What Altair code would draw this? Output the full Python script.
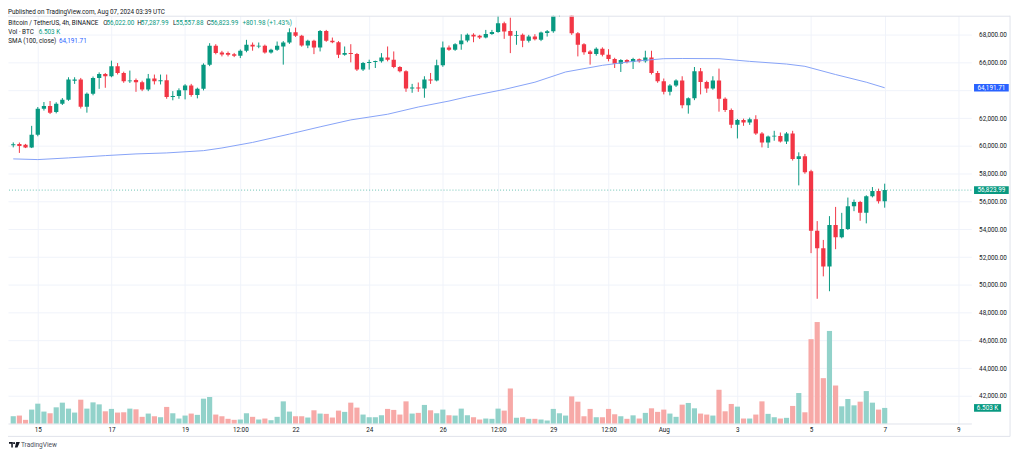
import altair as alt
import pandas as pd

# ---- data (BTC/USDT 4h, candle open times in hours from 2024-07-15 00:00) ----
first_hour = -16
hour_step = 4

opens = [60060, 60143, 60090, 59900, 60807, 62686, 62879, 62450, 63043, 63329,
         64700, 64790, 62829, 63757, 64900, 65186, 65021, 65736, 65257, 64664,
         64757, 64593, 64071, 64857, 64664, 64730, 63521, 63600, 64021, 64357,
         63664, 64114, 65857, 67214, 66736, 66686, 66600, 66500, 66857, 67286,
         67164, 67220, 66736, 66929, 67164, 67450, 68186, 67929, 67236, 67571,
         67093, 68286, 67571, 67471, 66571, 66686, 66614, 65500, 65971, 66050,
         66100, 66379, 66214, 65686, 65379, 64143, 64180, 64143, 64786, 64714,
         65807, 67093, 66929, 67329, 67593, 68000, 67929, 67807, 68071, 68214,
         68829, 68286, 67929, 68000, 67571, 67879, 67643, 68143, 68257, 69380,
         69700, 69900, 68114, 67329, 66807, 66614, 67000, 66571, 66257, 65929,
         66186, 66043, 66236, 66093, 66379, 65257, 64664, 63900, 64357, 64714,
         62929, 63429, 65379, 64614, 64143, 64714, 63400, 62593, 61521, 61879,
         61686, 61929, 60900, 60257, 60686, 60720, 60329, 60900, 59057, 59257,
         58186, 53900, 52643, 51329, 54307, 53429, 54021, 55664, 55971, 55186,
         56379, 56757, 56022]
highs = [60257, 60250, 60150, 61450, 62807, 63164, 63236, 63150, 63450, 64950,
         64950, 64900, 63850, 65000, 65300, 65257, 66143, 65971, 65350, 65430,
         64857, 64700, 65186, 65143, 65143, 65143, 63950, 64150, 64450, 64471,
         64200, 65950, 67400, 67329, 66850, 66800, 66700, 66950, 67643, 67450,
         67450, 67300, 67000, 67521, 67550, 68471, 68521, 68000, 67650, 67650,
         68350, 68357, 67807, 67550, 67164, 67329, 66700, 66050, 66214, 66143,
         66686, 67164, 66807, 65750, 65450, 64471, 64571, 65021, 65257, 66214,
         67521, 67236, 67400, 68043, 68100, 68114, 68000, 68357, 68357, 69379,
         68950, 69236, 68286, 68100, 68000, 68050, 68236, 68350, 69500, 69900,
         70000, 70000, 68200, 67400, 66900, 67100, 67100, 66971, 66350, 66250,
         66250, 66350, 66300, 66857, 66857, 65400, 64857, 64450, 64800, 65021,
         63500, 65686, 65614, 64700, 65021, 65571, 63500, 62700, 61950, 61971,
         62043, 62214, 61000, 60750, 61093, 60971, 61000, 61093, 59543, 59429,
         58286, 54593, 53236, 54950, 55614, 55186, 56286, 56143, 56050, 56450,
         57043, 56929, 57287.99]
lows = [59900, 59500, 59850, 59850, 60700, 62550, 62300, 62350, 62950, 63250,
        64470, 62700, 62400, 63650, 64114, 64190, 64950, 65150, 64550, 64540,
        63900, 63950, 63950, 64430, 64430, 63400, 63290, 63400, 63357, 63550,
        63429, 64000, 65750, 66600, 66450, 66450, 66400, 66329, 66750, 66860,
        67040, 66650, 66650, 66850, 65857, 67350, 67850, 67150, 67043, 66614,
        66807, 67500, 67400, 66329, 66500, 66021, 65400, 65400, 65500, 65614,
        66000, 66093, 65600, 65300, 63900, 63829, 63900, 63471, 64471, 64650,
        65700, 66850, 66850, 66929, 67471, 67471, 67700, 67750, 68000, 68150,
        67714, 66686, 67286, 67114, 67450, 67600, 67550, 67879, 68150, 69300,
        69550, 68000, 66450, 66571, 65857, 66500, 66450, 66093, 65614, 65329,
        65950, 65543, 66000, 66000, 65150, 64550, 63714, 63643, 64250, 62714,
        62329, 63300, 63714, 63829, 64050, 62471, 62450, 61286, 60543, 61450,
        61521, 60800, 59900, 59857, 60379, 60250, 60143, 58950, 57164, 58000,
        52286, 49000, 50614, 49543, 52571, 53350, 53950, 55307, 54614, 54429,
        56300, 55857, 55557.88]
closes = [60110, 60000, 59900, 60807, 62686, 62879, 62400, 63043, 63329, 64786,
          64790, 62829, 63757, 64900, 65186, 65021, 65736, 65257, 64664, 64720,
          64593, 64071, 64857, 64664, 64730, 63521, 63600, 64021, 64357, 63664,
          64114, 65857, 67214, 66686, 66580, 66571, 66500, 66857, 67286, 67164,
          67220, 66736, 66929, 67214, 67450, 68186, 67929, 67236, 67571, 67093,
          68286, 67571, 67471, 66571, 66686, 66614, 65500, 65971, 66050, 66100,
          66379, 66214, 65686, 65379, 64143, 64180, 64143, 64786, 64714, 65807,
          67093, 66929, 67329, 67593, 68000, 67879, 67807, 68071, 68214, 68829,
          68236, 67929, 67960, 67571, 67879, 67686, 68164, 68257, 69380, 69700,
          69900, 68114, 67286, 66757, 66614, 67000, 66571, 66257, 65929, 66186,
          66043, 66257, 66093, 66379, 65257, 64664, 63900, 64357, 64714, 62929,
          63429, 65379, 64614, 64143, 64714, 63400, 62593, 61521, 61879, 61686,
          61929, 60900, 60257, 60686, 60720, 60329, 60900, 59057, 59257, 58114,
          53900, 52643, 51329, 54307, 53429, 54021, 55664, 55971, 55186, 56379,
          56757, 56022, 56823.99]
volumes_k = [3.04, 3.31, 1.52, 5.80, 8.28, 4.97, 4.27, 6.75, 8.70, 6.21,
             4.56, 9.94, 6.21, 8.82, 7.99, 5.09, 6.09, 4.56, 4.68, 6.21,
             5.92, 2.78, 4.14, 3.02, 2.61, 6.92, 4.27, 2.07, 3.31, 4.14,
             3.60, 10.36, 11.06, 3.73, 3.02, 1.95, 1.53, 1.66, 4.27, 2.78,
             1.66, 2.07, 1.37, 2.78, 9.24, 4.97, 3.02, 3.02, 2.49, 5.51,
             4.14, 4.02, 2.49, 5.38, 4.85, 8.70, 6.63, 3.73, 2.61, 2.61,
             3.44, 6.09, 5.67, 3.73, 9.24, 4.14, 4.43, 7.75, 5.51, 4.27,
             5.80, 3.44, 3.31, 6.21, 3.44, 2.61, 1.66, 2.07, 1.95, 6.21,
             5.38, 14.62, 2.36, 2.61, 1.95, 1.95, 1.66, 1.24, 6.09, 4.27,
             3.31, 11.31, 9.11, 3.02, 6.09, 2.61, 2.61, 6.09, 3.85, 3.02,
             1.95, 3.40, 2.07, 4.43, 6.34, 4.85, 5.80, 4.14, 2.78, 7.87,
             8.57, 6.34, 4.14, 3.73, 3.31, 14.08, 5.09, 8.16, 7.04, 2.07,
             2.07, 3.73, 9.24, 4.02, 2.61, 2.07, 2.36, 7.33, 12.72, 4.68,
             35.21, 42.37, 18.93, 38.65, 15.86, 7.17, 10.23, 7.58, 9.11, 13.54,
             8.70, 5.80, 6.503]

sma_hours = [-16, 0, 20, 44, 64, 84, 108, 120, 140, 164, 184, 204, 228, 248, 268,
             280, 304, 324, 344, 368, 388, 408, 420, 444, 464, 488, 500, 520, 540, 552]
sma_values = [59071, 59021, 59143, 59307, 59429, 59500, 59664, 59857, 60257, 60857,
              61379, 61879, 62286, 62807, 63236, 63543, 64071, 64593, 65329, 65807,
              66093, 66286, 66300, 66286, 66093, 65900, 65736, 65143, 64593, 64191.71]

x_tick_hours = [0, 48, 96, 132, 168, 216, 264, 300, 336, 372, 408, 456, 504, 552, 600]
x_tick_labels = ["15", "17", "19", "12:00", "22", "24", "26", "12:00", "29", "12:00",
                 "Aug", "3", "5", "7", "9"]
price_ticks = [42000, 44000, 46000, 48000, 50000, 52000, 54000, 56000, 58000,
               60000, 62000, 64000, 66000, 68000]

# ---- frames ----
n = len(opens)
hours = [first_hour + hour_step * i for i in range(n)]
df = pd.DataFrame({"t": hours, "open": opens, "high": highs, "low": lows,
                   "close": closes, "vol": volumes_k})
df["dir"] = ["up" if c >= o else "down" for o, c in zip(opens, closes)]
df["body_lo"] = df[["open", "close"]].min(axis=1)
df["body_hi"] = pd.concat([df[["open", "close"]].max(axis=1), df["body_lo"] + 60], axis=1).max(axis=1)
last = df.iloc[[-1]].copy()
sma_df = pd.DataFrame({"t": sma_hours, "sma": sma_values})
sma_last = sma_df.iloc[[-1]].copy()

GREEN = "#089981"
RED = "#f23645"
TXT = "#131722"
FONT = "Roboto"
FS = 6.4

xscale = alt.Scale(domain=[-16.19, 605.25], nice=False, zero=False)
yscale = alt.Scale(domain=[40021, 69379], nice=False, zero=False)
vscale = alt.Scale(domain=[0, 170.3], nice=False, zero=False)
cscale = alt.Scale(domain=["up", "down"], range=[GREEN, RED])
vcscale = alt.Scale(domain=["up", "down"], range=["#92d2ca", "#f7a9a7"])

label_expr = "[" + ",".join("'%s'" % s for s in x_tick_labels) + "][indexof([" + \
    ",".join(str(v) for v in x_tick_hours) + "], datum.value)]"

x_axis = alt.Axis(values=x_tick_hours, labelExpr=label_expr, grid=True, gridColor="#f0f3fa",
                  ticks=False, tickSize=0, domain=True, domainColor="#e0e3eb",
                  labelFont=FONT, labelFontSize=FS, labelColor=TXT, labelPadding=3.5,
                  labelBaseline="top", labelFlush=False, labelOverlap=False, title="")
y_axis = alt.Axis(orient="right", values=price_ticks,
                  labelExpr="datum.value == 64000 ? '' : format(datum.value, ',.2f')",
                  grid=True, gridColor="#f0f3fa", ticks=False, tickSize=0, domain=False,
                  labelFont=FONT, labelFontSize=FS, labelColor=TXT, labelPadding=7.3,
                  labelAlign="left", labelBaseline="middle", labelOverlap=False, title="")


def X(field="t"):
    return alt.X(f"{field}:Q", scale=xscale, axis=x_axis)


def PY(field):
    return alt.Y(f"{field}:Q", scale=yscale, axis=y_axis)


def VY(field):
    return alt.Y(f"{field}:Q", scale=vscale, axis=None)


base = alt.Chart(df)

vol_bars = base.mark_bar(size=5.2).encode(
    x=X(), y=VY("vol"),
    color=alt.Color("dir:N", scale=vcscale, legend=None),
)
box_vol = alt.Chart(last).mark_point(
    shape="M-1,-0.282H1V0.282H-1Z", size=745, filled=True, fill=GREEN, opacity=1, strokeWidth=0
).encode(x=alt.value(987.35), y=VY("vol"))
box_vol_txt = alt.Chart(last).mark_text(font=FONT, fontSize=FS, color="white", align="center",
                                        baseline="middle").encode(
    x=alt.value(987.35), y=VY("vol"), text=alt.value("6.503 K"))
vol_layer = alt.layer(vol_bars, box_vol, box_vol_txt)

wicks = base.mark_rule(strokeWidth=1, clip=True).encode(
    x=X(), y=PY("low"), y2="high:Q",
    color=alt.Color("dir:N", scale=cscale, legend=None),
)
bodies = base.mark_bar(size=4.3, clip=True).encode(
    x=X(), y=PY("body_lo"), y2="body_hi:Q",
    color=alt.Color("dir:N", scale=cscale, legend=None),
)
sma_line = alt.Chart(sma_df).mark_line(strokeWidth=1, color="#86a2f7", clip=True).encode(
    x=X(), y=PY("sma"))
price_line = alt.Chart(last).mark_rule(strokeDash=[1, 2], color=GREEN, opacity=0.6).encode(
    y=PY("close"))
box_path = "M-1,-0.22H1V0.22H-1Z"
box_sma = alt.Chart(sma_last).mark_point(
    shape=box_path, size=1225, filled=True, fill="#2962ff", opacity=1, strokeWidth=0
).encode(x=alt.value(991.2), y=PY("sma"))
box_sma_txt = alt.Chart(sma_last).mark_text(font=FONT, fontSize=FS, color="white",
                                            align="center", baseline="middle").encode(
    x=alt.value(991.2), y=PY("sma"), text=alt.Text("sma:Q", format=",.2f"))
box_px = alt.Chart(last).mark_point(
    shape=box_path, size=1225, filled=True, fill=GREEN, opacity=1, strokeWidth=0
).encode(x=alt.value(991.2), y=PY("close"))
box_px_txt = alt.Chart(last).mark_text(font=FONT, fontSize=FS, color="white",
                                       align="center", baseline="middle").encode(
    x=alt.value(991.2), y=PY("close"), text=alt.Text("close:Q", format=",.2f"))
price_layer = alt.layer(wicks, bodies, sma_line, price_line, box_sma, box_sma_txt, box_px, box_px_txt)

one = alt.Data(values=[{"k": 1}])


def txt(s, x, y, color=TXT, size=FS, baseline="middle"):
    return alt.Chart(one).mark_text(text=s, font=FONT, fontSize=size, color=color,
                                    align="left", baseline=baseline).encode(
        x=alt.value(x), y=alt.value(y))


def hline(x1, x2, y):
    return alt.Chart(one).mark_rule(color="#e0e3eb", strokeWidth=1).encode(
        x=alt.value(x1), x2=alt.value(x2), y=alt.value(y))


def vline(x, y1, y2):
    return alt.Chart(one).mark_rule(color="#e0e3eb", strokeWidth=1).encode(
        x=alt.value(x), y=alt.value(y1), y2=alt.value(y2))


logo = alt.Chart(one).mark_point(
    shape="M-1,-0.5H-0.3V0.5H-0.58V-0.2H-1Z M-0.24,-0.48H0.1V-0.16H-0.24Z M0.32,-0.5H1L0.55,0.5H0.08Z",
    size=121, filled=True, fill="#131722", opacity=1, strokeWidth=0
).encode(x=alt.value(6.5), y=alt.value(432.5))

texts = [
    txt("Published on TradingView.com, Aug 07, 2024 03:39 UTC", 0, -6.5, baseline="top"),
    txt("Bitcoin / TetherUS, 4h, BINANCE", 0.3, 7.7),
    txt("O", 96, 7.7), txt("56,022.00", 99.3, 7.7, GREEN),
    txt("H", 130.3, 7.7), txt("57,287.99", 133.7, 7.7, GREEN),
    txt("L", 166.3, 7.7), txt("55,557.88", 169, 7.7, GREEN),
    txt("C", 200.3, 7.7), txt("56,823.99", 204, 7.7, GREEN),
    txt("+801.98 (+1.43%)", 236.3, 7.7, GREEN),
    txt("Vol · BTC", 0.3, 16.7), txt("6.503 K", 31, 16.7, GREEN),
    txt("SMA (100, close)", 0.3, 25.5), txt("64,191.71", 51.3, 25.5, "#2962ff"),
    txt("TradingView", 13, 432.5, "#4a4e59", size=6.6),
]

borders = [hline(0, 1010, 0.5), vline(1010, 0, 424), hline(0, 1010, 424)]

chart = alt.layer(vol_layer, price_layer, *borders, logo, *texts).resolve_scale(
    y="independent", color="independent"
).properties(
    width=971, height=411,
    padding={"left": 0, "top": 6, "right": 45, "bottom": 32},
    autosize=alt.AutoSizeParams(type="none"),
).configure_view(stroke=None)

chart.save("out.html", embed_options={"renderer": "svg", "actions": False})
